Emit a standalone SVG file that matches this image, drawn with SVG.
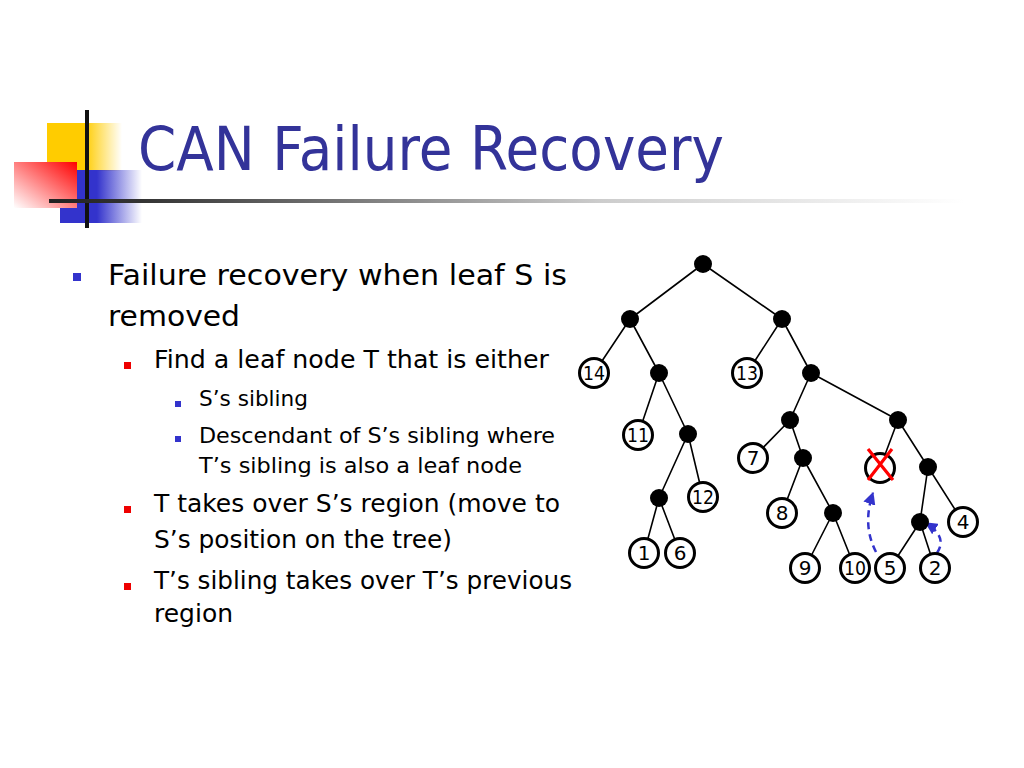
<svg xmlns="http://www.w3.org/2000/svg" width="1024" height="768" viewBox="0 0 1024 768">
<defs>
<linearGradient id="gy" x1="0" y1="0" x2="1" y2="0"><stop offset="0" stop-color="#ffcc00"/><stop offset="0.5" stop-color="#ffcc00"/><stop offset="1" stop-color="#ffcc00" stop-opacity="0"/></linearGradient>
<linearGradient id="gr" x1="1" y1="0" x2="0" y2="1"><stop offset="0" stop-color="#ff0000"/><stop offset="1" stop-color="#ffffff"/></linearGradient>
<linearGradient id="gb" x1="0" y1="0" x2="1" y2="0"><stop offset="0" stop-color="#3333cc"/><stop offset="0.45" stop-color="#3333cc"/><stop offset="1" stop-color="#3333cc" stop-opacity="0"/></linearGradient>
<linearGradient id="gl" x1="0" y1="0" x2="1" y2="0"><stop offset="0" stop-color="#222"/><stop offset="0.1" stop-color="#333"/><stop offset="0.6" stop-color="#ccc"/><stop offset="1" stop-color="#fff"/></linearGradient>
<marker id="ah" viewBox="0 0 10 10" refX="9" refY="5" markerWidth="5" markerHeight="5" orient="auto"><path d="M0,0 L10,5 L0,10 z" fill="#3333cc"/></marker>
<style>
.t{font-family:"DejaVu Sans","Liberation Sans",sans-serif;fill:#000}
.ttl{font-family:"DejaVu Sans","Liberation Sans",sans-serif;fill:#333399;font-size:60px}
.l1{font-size:29px}.l2{font-size:25px}.l3{font-size:21px}
.e{stroke:#000;stroke-width:1.6;fill:none}
.in{fill:#000}
.lf{fill:#fff;stroke:#000;stroke-width:3}
.n{font-family:"DejaVu Sans","Liberation Sans",sans-serif;font-size:20px;text-anchor:middle;fill:#000}
.ar{stroke:#3333cc;stroke-width:2.5;fill:none;stroke-dasharray:7,5}
</style>
</defs>
<rect width="1024" height="768" fill="#fff"/>
<g id="logo">
<rect x="47" y="123" width="75" height="48" fill="url(#gy)"/>
<rect x="60" y="170" width="82" height="53" fill="url(#gb)"/>
<rect x="14" y="162" width="63" height="46" fill="url(#gr)"/>
<rect x="85" y="110" width="4" height="118" fill="#111"/>
<rect x="49" y="199" width="915" height="4" fill="url(#gl)"/>
</g>
<text class="ttl" x="138" y="170" textLength="586" lengthAdjust="spacingAndGlyphs">CAN Failure Recovery</text>
<g id="bullets">
<rect x="73" y="273" width="8" height="8" fill="#3333cc"/>
<text class="t l1" x="108" y="285" textLength="459" lengthAdjust="spacingAndGlyphs">Failure recovery when leaf S is</text>
<text class="t l1" x="108" y="326" textLength="132" lengthAdjust="spacingAndGlyphs">removed</text>
<rect x="124" y="362" width="7" height="7" fill="#ee0000"/>
<text class="t l2" x="154" y="368" textLength="395" lengthAdjust="spacingAndGlyphs">Find a leaf node T that is either</text>
<rect x="175" y="401" width="6" height="6" fill="#3333cc"/>
<text class="t l3" x="199" y="406" textLength="109" lengthAdjust="spacingAndGlyphs">S’s sibling</text>
<rect x="175" y="436" width="6" height="6" fill="#3333cc"/>
<text class="t l3" x="199" y="443" textLength="356" lengthAdjust="spacingAndGlyphs">Descendant of S’s sibling where</text>
<text class="t l3" x="199" y="473" textLength="323" lengthAdjust="spacingAndGlyphs">T’s sibling is also a leaf node</text>
<rect x="124" y="506" width="7" height="7" fill="#ee0000"/>
<text class="t l2" x="154" y="512" textLength="406" lengthAdjust="spacingAndGlyphs">T takes over S’s region (move to</text>
<text class="t l2" x="154" y="548" textLength="298" lengthAdjust="spacingAndGlyphs">S’s position on the tree)</text>
<rect x="124" y="583" width="7" height="7" fill="#ee0000"/>
<text class="t l2" x="154" y="589" textLength="418" lengthAdjust="spacingAndGlyphs">T’s sibling takes over T’s previous</text>
<text class="t l2" x="154" y="622" textLength="79" lengthAdjust="spacingAndGlyphs">region</text>
</g>
<g id="edges">
<path class="e" d="M703,264L630,319M703,264L782,319M630,319L594,373M630,319L659,373M782,319L747,373M782,319L811,373M659,373L638,435M659,373L688,434M688,434L659,498M688,434L703,497M659,498L644,553M659,498L680,553M811,373L790,420M811,373L898,420M790,420L753,458M790,420L803,458M803,458L782,513M803,458L833,513M833,513L805,568M833,513L855,568M898,420L880,468M898,420L928,467M928,467L920,522M928,467L963,522M920,522L890,568M920,522L935,568"/>
</g>
<g id="arrows">
<path class="ar" d="M876,552 Q862,525 873,493" marker-end="url(#ah)"/>
<path class="ar" d="M937,553 Q948,537 926,523" marker-end="url(#ah)"/>
</g>
<g id="nodes">
<circle class="in" cx="703" cy="264" r="9"/>
<circle class="in" cx="630" cy="319" r="9"/>
<circle class="in" cx="782" cy="319" r="9"/>
<circle class="in" cx="659" cy="373" r="9"/>
<circle class="in" cx="811" cy="373" r="9"/>
<circle class="in" cx="688" cy="434" r="9"/>
<circle class="in" cx="790" cy="420" r="9"/>
<circle class="in" cx="898" cy="420" r="9"/>
<circle class="in" cx="803" cy="458" r="9"/>
<circle class="in" cx="928" cy="467" r="9"/>
<circle class="in" cx="659" cy="498" r="9"/>
<circle class="in" cx="833" cy="513" r="9"/>
<circle class="in" cx="920" cy="522" r="9"/>
<g id="n14"><circle class="lf" cx="594" cy="373" r="14.5"/><text class="n" x="594" y="380" textLength="22" lengthAdjust="spacingAndGlyphs">14</text></g>
<g id="n13"><circle class="lf" cx="747" cy="373" r="14.5"/><text class="n" x="747" y="380" textLength="22" lengthAdjust="spacingAndGlyphs">13</text></g>
<g id="n11"><circle class="lf" cx="638" cy="435" r="14.5"/><text class="n" x="638" y="442" textLength="22" lengthAdjust="spacingAndGlyphs">11</text></g>
<g id="n7"><circle class="lf" cx="753" cy="458" r="14.5"/><text class="n" x="753" y="465">7</text></g>
<g id="nS"><circle class="lf" cx="880" cy="468" r="14.5"/><path d="M868,449L893,480M892,449L868,480" stroke="#ff0000" stroke-width="3.2" fill="none"/></g>
<g id="n12"><circle class="lf" cx="703" cy="497" r="14.5"/><text class="n" x="703" y="504" textLength="22" lengthAdjust="spacingAndGlyphs">12</text></g>
<g id="n8"><circle class="lf" cx="782" cy="513" r="14.5"/><text class="n" x="782" y="520">8</text></g>
<g id="n4"><circle class="lf" cx="963" cy="522" r="14.5"/><text class="n" x="963" y="529">4</text></g>
<g id="n1"><circle class="lf" cx="644" cy="553" r="14.5"/><text class="n" x="644" y="560">1</text></g>
<g id="n6"><circle class="lf" cx="680" cy="553" r="14.5"/><text class="n" x="680" y="560">6</text></g>
<g id="n9"><circle class="lf" cx="805" cy="568" r="14.5"/><text class="n" x="805" y="575">9</text></g>
<g id="n10"><circle class="lf" cx="855" cy="568" r="14.5"/><text class="n" x="855" y="575" textLength="22" lengthAdjust="spacingAndGlyphs">10</text></g>
<g id="n5"><circle class="lf" cx="890" cy="568" r="14.5"/><text class="n" x="890" y="575">5</text></g>
<g id="n2"><circle class="lf" cx="935" cy="568" r="14.5"/><text class="n" x="935" y="575">2</text></g>
</g>
</svg>
